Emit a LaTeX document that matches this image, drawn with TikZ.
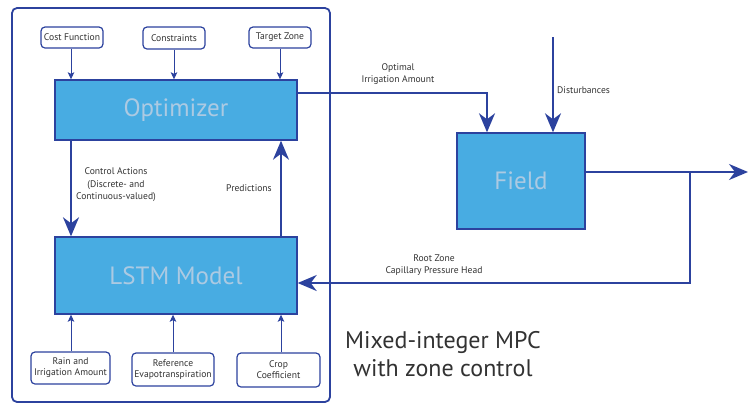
\documentclass[tikz,border=0pt]{standalone}
\usepackage{fontspec}
\setmainfont{PT Sans}
\usetikzlibrary{arrows.meta,calc}
\definecolor{lineblue}{RGB}{44,66,158}
\definecolor{boxfill}{RGB}{72,172,226}
\definecolor{boxtext}{RGB}{172,202,226}
\definecolor{txt}{RGB}{50,50,50}
\tikzset{
  smallbox/.style={draw=lineblue, line width=1.2pt, rounded corners=4pt, fill=white, text=txt,
    font=\fontsize{9.6}{11}\selectfont, align=center, inner sep=1pt},
  bigbox/.style={draw=lineblue, line width=1.4pt, fill=boxfill, text=boxtext,
    font=\fontsize{25}{28}\selectfont},
  smallarrow/.style={draw=lineblue, line width=0.9pt, -{Stealth[length=7pt,width=6.5pt,inset=1.5pt]}},
  bigarrow/.style={draw=lineblue, line width=2pt, -{Stealth[length=19pt,width=16pt,inset=6pt]}},
  bigline/.style={draw=lineblue, line width=2pt},
  lbl/.style={text=txt, font=\fontsize{9.6}{12.5}\selectfont, align=center, inner sep=0pt},
}
\begin{document}
\begin{tikzpicture}[x=1pt,y=-1pt]
\useasboundingbox (0,0) rectangle (748,408);
% outer frame
\draw[draw=lineblue, line width=1.8pt, rounded corners=5pt] (12,8) rectangle (330,402);
% top inputs
\node[smallbox, minimum width=62pt, minimum height=21pt] (cost) at (72,37.5) {Cost Function};
\node[smallbox, minimum width=62pt, minimum height=22pt] (cons) at (174,38) {Constraints};
\node[smallbox, minimum width=62pt, minimum height=21pt] (targ) at (280,37.5) {Target Zone};
% main boxes
\node[bigbox, minimum width=242pt, minimum height=60pt] (opt) at (176,110) {Optimizer};
\node[bigbox, minimum width=242pt, minimum height=77pt] (lstm) at (176,275.5) {LSTM Model};
\node[bigbox, minimum width=128pt, minimum height=96pt, font=\fontsize{25}{28}\selectfont] (field) at (521,181) {Field};
% bottom inputs
\node[smallbox, minimum width=79pt, minimum height=32pt] (rain) at (70.5,368) {Rain and\\Irrigation Amount};
\node[smallbox, minimum width=82pt, minimum height=33pt] (ref) at (173,369.5) {Reference\\Evapotranspiration};
\node[smallbox, minimum width=83pt, minimum height=34pt] (crop) at (278.5,370) {Crop\\Coefficient};
% small arrows
\draw[smallarrow] ([xshift=-1pt]cost.south) -- ([xshift=-1pt]cost.south |- opt.north);
\draw[smallarrow] (cons.south) -- (cons.south |- opt.north);
\draw[smallarrow] (targ.south) -- (targ.south |- opt.north);
\draw[smallarrow] ([xshift=0.5pt]rain.north) -- ([xshift=0.5pt]rain.north |- lstm.south);
\draw[smallarrow] (ref.north) -- (ref.north |- lstm.south);
\draw[smallarrow] ([xshift=2.5pt]crop.north) -- ([xshift=2.5pt]crop.north |- lstm.south);
% control actions / predictions
\draw[bigarrow] ([xshift=-105pt]opt.south) -- ([xshift=-105pt]lstm.north);
\draw[bigarrow] ([xshift=105pt]lstm.north) -- ([xshift=105pt]opt.south);
\node[lbl] (ca) at (116,185) {Control Actions\\(Discrete- and\\Continuous-valued)};
\node[lbl] (pred) at (249,188) {Predictions};
% optimal irrigation
\draw[bigarrow] ([yshift=17pt]opt.east) -| ([xshift=-34pt]field.north);
\node[lbl] (oia) at (398,74) {Optimal\\Irrigation Amount};
% disturbances
\coordinate (dst) at (553,37);
\draw[bigarrow] (dst) -- (dst |- field.north);
\node[lbl, anchor=west] (dlbl) at (557,90) {Disturbances};
% output
\coordinate (out) at (748,172);
\coordinate (br) at (690,172);
\draw[bigarrow] ([yshift=9pt]field.east) -- (out);
\draw[bigarrow] (br) |- ([yshift=-7.5pt]lstm.east);
\node[lbl] (rz) at (434,265) {Root Zone\\Capillary Pressure Head};
% title
\node[text=txt, font=\fontsize{24}{28}\selectfont, align=center, inner sep=0pt] (title) at (443,354) {Mixed-integer MPC\\with zone control};
\end{tikzpicture}
\end{document}
